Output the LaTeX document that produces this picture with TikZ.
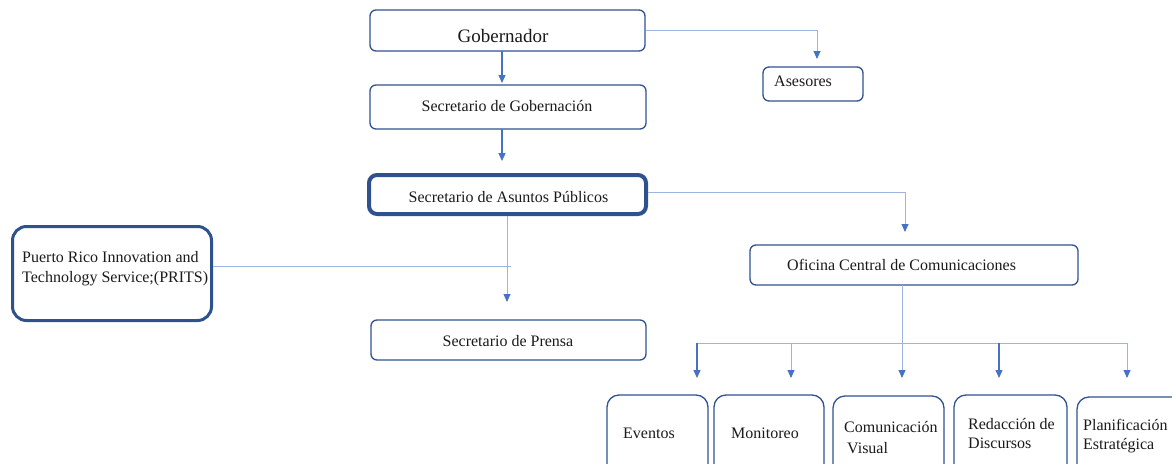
\documentclass[tikz,border=0pt]{standalone}
\usepackage{fontspec}
\setmainfont{Liberation Serif}
\usetikzlibrary{arrows.meta}
\definecolor{boxblue}{HTML}{2F528F}
\definecolor{linkblue}{HTML}{4472C4}
\definecolor{paleblue}{HTML}{9DB3E0}
\definecolor{ink}{HTML}{1A1A1A}
\begin{document}
\begin{tikzpicture}[x=1pt,y=-1pt,
  box/.style={draw=boxblue, line width=1.3pt, rounded corners=6pt, inner sep=0pt},
  thickbox/.style={box, line width=4pt, rounded corners=8pt},
  prbox/.style={box, line width=3pt, rounded corners=14pt},
  lowbox/.style={box, line width=1.3pt, rounded corners=12pt, minimum height=85pt},
  lbl/.style={font=\fontsize{16}{20}\selectfont, text=ink, inner sep=0pt, anchor=base west},
  clbl/.style={lbl, anchor=base},
  pale/.style={draw=paleblue, line width=0.9pt},
  mid/.style={draw=linkblue, line width=1.2pt},
  tip/.style={-{Triangle[width=7pt,length=8pt,color=linkblue]}},
]
\useasboundingbox (0,0) rectangle (1172,463);
\clip (0,0) rectangle (1172,463);

% boxes
\node[box, minimum width=275pt, minimum height=41pt] (gob) at (507.5,30.5) {};
\node[box, minimum width=100pt, minimum height=34pt] (ases) at (813,84) {};
\node[box, minimum width=276pt, minimum height=44pt] (secgob) at (508,107) {};
\node[thickbox, minimum width=277pt, minimum height=39pt] (sap) at (507.5,194.5) {};
\node[prbox, minimum width=199pt, minimum height=94pt] (prits) at (112,273.5) {};
\node[box, minimum width=275pt, minimum height=40pt] (prensa) at (508.5,340) {};
\node[box, minimum width=328pt, minimum height=40pt] (ofi) at (914,265) {};
\node[lowbox, minimum width=101pt] (eve) at (657.5,437.5) {};
\node[lowbox, minimum width=110pt] (mon) at (769,437.5) {};
\node[lowbox, minimum width=111pt] (com) at (888.5,438.5) {};
\node[lowbox, minimum width=113pt] (red) at (1010.5,437.5) {};
\node[lowbox, minimum width=108pt] (pla) at (1131,439.5) {};

% texts
\node[clbl, font=\fontsize{19}{23}\selectfont] (tgob) at (503,42) {Gobernador};
\node[lbl] (tases) at (774,86) {Asesores};
\node[clbl] (tsecgob) at (507,111) {Secretario de Gobernación};
\node[clbl] (tsap) at (508.5,202) {Secretario de Asuntos Públicos};
\node[lbl] (tprits1) at (22,262) {Puerto Rico Innovation and};
\node[lbl] (tprits2) at (22,282) {Technology Service;(PRITS)};
\node[clbl] (tprensa) at (508,346) {Secretario de Prensa};
\node[lbl] (tofi) at (787,270) {Oficina Central de Comunicaciones};
\node[lbl] (teve) at (623,438) {Eventos};
\node[lbl] (tmon) at (731,438) {Monitoreo};
\node[lbl] (tcom1) at (844,432) {Comunicación};
\node[lbl] (tcom2) at (847,453) {Visual};
\node[lbl] (tred1) at (968,429) {Redacción de};
\node[lbl] (tred2) at (968,448) {Discursos};
\node[lbl] (tpla1) at (1083,430) {Planificación};
\node[lbl] (tpla2) at (1083,449) {Estratégica};

% connector coordinates
\coordinate (aAs) at (817,59);
\coordinate (aSG) at (502,83);
\coordinate (gS) at (502,51);
\coordinate (sgS) at (502,129);
\coordinate (aSAP) at (502,161);
\coordinate (sapE) at (648,192);
\coordinate (aOfi) at (905,232);
\coordinate (sapS) at (507,216);
\coordinate (aPr) at (507,302);
\coordinate (prJ) at (511,266);
\coordinate (ofS) at (902,285);
\coordinate (b1) at (697,343);
\coordinate (b2) at (791,343);
\coordinate (b4) at (999,343);
\coordinate (b5) at (1127,343);
\coordinate (t1) at (697,378);
\coordinate (t2) at (791,378);
\coordinate (t3) at (902,378);
\coordinate (t4) at (999,378);
\coordinate (t5) at (1127,378);

% connectors
\draw[pale, tip] (gob.east) -| (aAs);
\draw[mid, tip] (gS) -- (aSG);
\draw[mid, tip] (sgS) -- (aSAP);
\draw[pale, tip] (sapE) -| (aOfi);
\draw[pale, tip] (sapS) -- (aPr);
\draw[pale] (prits.east |- prJ) -- (prJ);
\draw[pale, tip] (ofS) -- (t3);
\draw[pale] (b1) -- (b5);
\draw[mid, tip] (b1) -- (t1);
\draw[pale, tip] (b2) -- (t2);
\draw[mid, tip] (b4) -- (t4);
\draw[pale, tip] (b5) -- (t5);
\end{tikzpicture}
\end{document}
